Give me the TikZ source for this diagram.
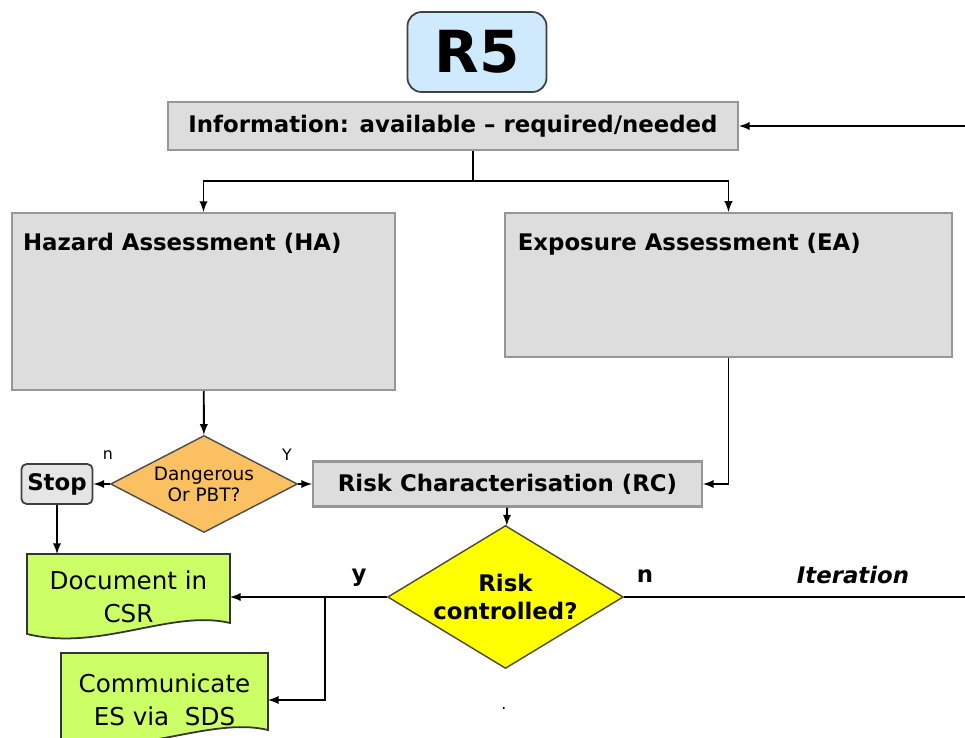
\documentclass[tikz,border=0pt]{standalone}
\usepackage{fontspec}
\setmainfont{DejaVu Sans}
\usetikzlibrary{shapes.geometric,calc,backgrounds}

\definecolor{skyfill}{RGB}{206,234,252}
\definecolor{boxgray}{RGB}{221,221,221}
\definecolor{boxedge}{RGB}{150,150,150}
\definecolor{dngfill}{RGB}{250,192,98}
\definecolor{ctlfill}{RGB}{255,255,0}
\definecolor{docfill}{RGB}{204,255,102}

\begin{document}
\begin{tikzpicture}[x=0.02cm, y=-0.02cm, >=latex, line width=1.1pt,
				topbox/.style={rectangle, rounded corners=8pt, draw=black!75, fill=skyfill, line width=1pt, minimum width=2.78cm, minimum height=1.6cm, font=\fontsize{33}{36}\selectfont\bfseries},
				graybox/.style={rectangle, draw=boxedge, fill=boxgray, line width=1.2pt, font=\fontsize{13}{15}\selectfont\bfseries},
				stopbox/.style={rectangle, rounded corners=3pt, draw=black!75, fill=black!10, line width=1pt, minimum width=1.4cm, minimum height=0.8cm, font=\fontsize{13}{15}\selectfont\bfseries},
				choice/.style={diamond, aspect=2, draw=black!70, line width=0.8pt, inner sep=0pt, align=center},
				docbox/.style={rectangle, align=center, font=\fontsize{14}{19}\selectfont},
				docshape/.style={draw=black!80, fill=docfill, line width=1pt},
				tag/.style={font=\fontsize{13}{15}\selectfont\bfseries},
				smalltag/.style={font=\fontsize{9}{11}\selectfont},
				]
				\useasboundingbox (0,0) rectangle (965,738);

				%Nodes
				\node[topbox] (r5) at (477,52) {R5};
				\node[graybox, minimum width=11.4cm, minimum height=0.96cm] (info) at (453,126) {Information: available – required/needed};
				\node[graybox, minimum width=7.66cm, minimum height=3.54cm, label={[tag, anchor=north west, xshift=3pt, yshift=-8pt]north west:Hazard Assessment (HA)}] (ha) at (203.5,301.5) {};
				\node[graybox, minimum width=8.94cm, minimum height=2.88cm, label={[tag, anchor=north west, xshift=4pt, yshift=-8pt]north west:Exposure Assessment (EA)}] (ea) at (728.5,285) {};
				\node[choice, fill=dngfill, minimum width=3.74cm, minimum height=1.94cm, font=\fontsize{10.5}{12}\selectfont] (dng) at (204,484) {Dangerous\\Or PBT?};
				\node[stopbox] (stop) at (57,484) {Stop};
				\node[graybox, minimum width=7.78cm, minimum height=0.9cm] (rc) at (507.5,484) {Risk Characterisation (RC)};
				\node[choice, fill=ctlfill, draw=black!60!olive, minimum width=4.66cm, minimum height=2.86cm, font=\fontsize{13}{16}\selectfont\bfseries] (rctl) at (505.5,597) {Risk\\controlled?};
				\node[docbox, minimum width=4.02cm, minimum height=1.68cm] (doc) at (128.5,597) {Document in\\CSR};
				\node[docbox, minimum width=4.1cm, minimum height=1.84cm] (com) at (164.5,700) {Communicate\\ES via~~SDS};

				\node[smalltag] (no1) at (108,455) {n};
				\node[smalltag] (yes1) at (287,455) {Y};
				\node[tag] (yes2) at (359,578) {y};
				\node[tag] (no2) at (645,576) {n};
				\node[tag, font=\fontsize{13}{15}\selectfont\bfseries\itshape] (iter) at (853,575) {Iteration};
				\node[font=\fontsize{9}{9}\selectfont] (dot) at (504,709) {.};

				\begin{scope}[on background layer]
					\draw[docshape] (doc.north west) -- (doc.north east) -- ($(doc.south east)+(0,-17)$) .. controls +(-58,-14) and +(72,18) .. ($(doc.south west)+(0,-6)$) -- cycle;
					\draw[docshape] (com.north west) -- (com.north east) -- ($(com.south east)+(0,-17)$) .. controls +(-58,-14) and +(72,18) .. ($(com.south west)+(0,-6)$) -- cycle;
				\end{scope}

				%Lines
				\coordinate (split) at (473,181);
				\coordinate (fork) at (325,597);
				\coordinate (loopdn) at (975,597);
				\draw (info.south -| split) -- (split);
				\draw[->] (split) -| (ha);
				\draw[->] (split) -| (ea);
				\draw[->] (ha) -- (dng);
				\draw[->] (ea) |- (rc);
				\draw[->] (dng) -- (stop);
				\draw[->] (dng) -- (rc);
				\draw[->] (stop) -- (stop |- doc.north);
				\draw[->] (rc) -- (rctl);
				\draw[->] (rctl) -- (doc);
				\draw[->] (fork) |- (com);
				\draw[->] (rctl) -- (loopdn) |- (info);
			\end{tikzpicture}
\end{document}
